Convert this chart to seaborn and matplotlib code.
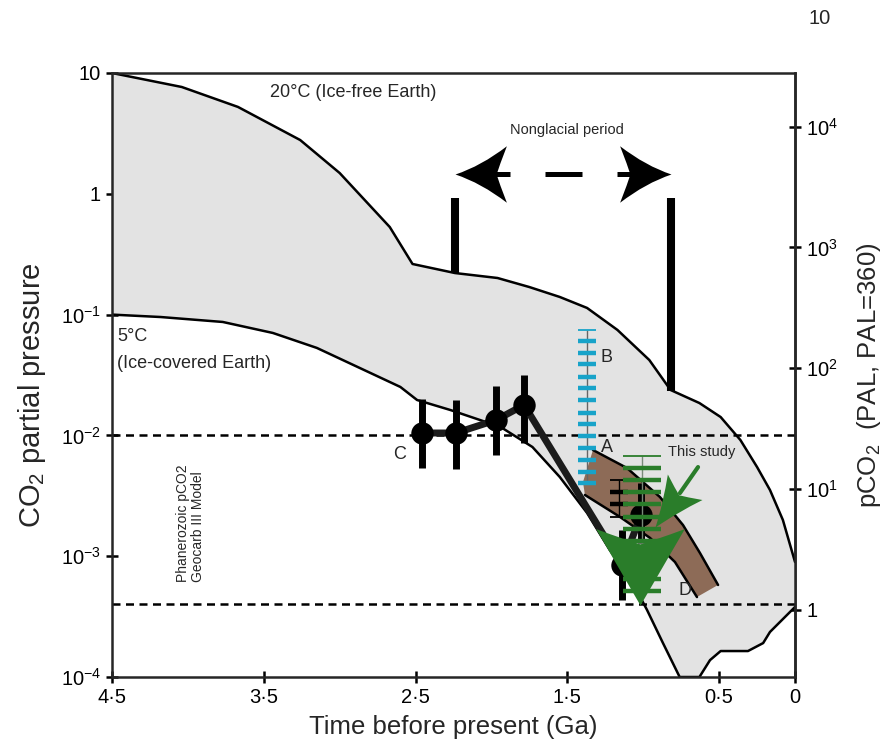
import numpy as np
import pandas as pd
import seaborn as sns
import matplotlib.pyplot as plt
from matplotlib.path import Path
from matplotlib.markers import MarkerStyle
from matplotlib.transforms import Affine2D
from matplotlib.ticker import NullLocator

# model envelope, age in Ga and log10 of pCO2 in atm
warm_ga = [4.5, 4.04, 3.67, 3.26, 3.00, 2.67, 2.52, 2.24, 1.96, 1.75, 1.55, 1.37,
           1.17, 0.96, 0.82, 0.63, 0.49, 0.36, 0.25, 0.165, 0.08, 0.0]
warm_log10 = [1.0, 0.884, 0.719, 0.445, 0.172, -0.275, -0.581, -0.656, -0.697, -0.772,
              -0.854, -0.945, -1.127, -1.376, -1.624, -1.732, -1.848, -2.038, -2.262,
              -2.452, -2.70, -3.048]
cold_ga = [0.0, 0.165, 0.21, 0.31, 0.49, 0.56, 0.63, 0.76, 0.87, 0.975, 1.09, 1.22,
           1.37, 1.55, 1.73, 1.94, 2.27, 2.49, 2.60, 3.15, 3.44, 3.77, 4.18, 4.5]
cold_log10 = [-3.42, -3.627, -3.719, -3.785, -3.785, -3.86, -4.0, -4.0, -3.719, -3.445,
              -3.172, -2.949, -2.642, -2.344, -2.096, -1.930, -1.790, -1.707, -1.599,
              -1.276, -1.152, -1.061, -1.020, -1.0]

# Phanerozoic Geocarb III range
geocarb_levels = [1e-2, 4e-4]

# paleosol estimates (C)
c_ga = [2.458, 2.234, 1.970, 1.785, 1.140, 1.015]
c_log10 = [-1.980, -1.980, -1.873, -1.748, -3.073, -2.659]
c_lo = [-2.270, -2.278, -2.162, -2.063, -3.363, -2.891]
c_hi = [-1.699, -1.707, -1.591, -1.500, -2.783, -2.394]

# estimate B
b_ga = 1.370
b_log10 = [-1.128, -1.219, -1.318, -1.409, -1.517, -1.608, -1.707, -1.815, -1.906,
           -2.005, -2.104, -2.204, -2.303, -2.394]
# black estimate
k_ga = 1.160
k_log10 = [-2.369, -2.469, -2.568, -2.675]
# this study
g_ga = 1.008
g_log10 = [-2.171, -2.270, -2.369, -2.469, -2.568, -2.675, -2.775, -2.874, -2.982,
           -3.081, -3.189, -3.288]

# band A-D
band_ga = [1.331, 1.107, 0.890, 0.738, 0.626, 0.507, 0.646, 0.791, 0.955, 1.153, 1.384, 1.397]
band_log10 = [-2.121, -2.270, -2.510, -2.742, -2.974, -3.238, -3.338, -3.048, -2.849,
              -2.675, -2.493, -2.386]

# nonglacial period
ng_start, ng_end = 2.24, 0.815
ng_bar_top = -0.035
ng_bar_bottom = [-0.656, -1.63]
ng_arrow_log10 = 0.164

y_ticks = [1e-4, 1e-3, 1e-2, 1e-1, 1, 10]
y_labels = ['10$^{-4}$', '10$^{-3}$', '10$^{-2}$', '10$^{-1}$', '1', '10']
x_ticks = [4.5, 3.5, 2.5, 1.5, 0.5, 0]
x_labels = ['4·5', '3·5', '2·5', '1·5', '0·5', '0']
pal_ticks = [1, 10, 100, 1000, 10000]
pal_labels = ['1', '10$^1$', '10$^2$', '10$^3$', '10$^4$']
PAL = 3.6e-4

GRAY = '#e3e3e3'
BROWN = '#8d6b57'
CYAN = '#18a3c9'
GREEN = '#2a7d2a'

sns.set_theme(style='ticks')
plt.rcParams['font.family'] = ['Liberation Sans', 'DejaVu Sans']
plt.rcParams['mathtext.default'] = 'regular'
plt.rcParams['axes.linewidth'] = 1.8


def head(half_width, angle, bow=0.4):
    # arrow head with swept back barbs, tip at origin
    hw = half_width
    verts = [(0, 0), (-0.5, bow * hw), (-1, hw), (-0.85, 0.3 * hw), (-0.8, 0),
             (-0.85, -0.3 * hw), (-1, -hw), (-0.5, -bow * hw), (0, 0), (0, 0)]
    codes = [Path.MOVETO] + [Path.CURVE3] * 8 + [Path.CLOSEPOLY]
    return MarkerStyle(Path(verts, codes), transform=Affine2D().rotate_deg(angle))


fig = plt.figure(figsize=(8.88, 7.54), dpi=100)
ax = fig.add_axes([0.1261, 0.1021, 0.7692, 0.8011])
ax.set_yscale('log')
ax.set_xlim(4.5, 0)
ax.set_ylim(1e-4, 10)

# envelope
env_x = np.concatenate([warm_ga, cold_ga])
env_y = 10 ** np.concatenate([warm_log10, cold_log10])
ax.fill(env_x, env_y, color=GRAY, lw=0, zorder=1)
ax.plot(warm_ga, 10 ** np.array(warm_log10), color='black', lw=1.8, zorder=2)
ax.plot(cold_ga, 10 ** np.array(cold_log10), color='black', lw=1.8, zorder=2)

for lev in geocarb_levels:
    ax.axhline(lev, color='black', lw=1.8, ls=(0, (3.2, 2.2)), zorder=3)

# band
ax.fill(band_ga, 10 ** np.array(band_log10), color=BROWN, lw=0, zorder=4)
ax.plot(band_ga[:6], 10 ** np.array(band_log10[:6]), color='black', lw=1.8, zorder=4)
ax.plot(band_ga[6:11], 10 ** np.array(band_log10[6:11]), color='black', lw=1.8, zorder=4)

# B
ax.vlines(b_ga, 10 ** b_log10[-1], 10 ** b_log10[0], color='#666666', lw=1, zorder=5)
ax.plot([b_ga], [10 ** b_log10[0]], ls='none', marker='_', ms=13, mew=1.3, color=CYAN, zorder=5)
ax.plot([b_ga] * (len(b_log10) - 1), 10 ** np.array(b_log10[1:]), ls='none', marker='_',
        ms=13, mew=3.2, color=CYAN, zorder=5)

# C series
c_df = pd.DataFrame({'age': c_ga, 'pco2': 10 ** np.array(c_log10)})
ax.vlines(c_ga, 10 ** np.array(c_lo), 10 ** np.array(c_hi), color='black', lw=5, zorder=6)
sns.lineplot(data=c_df, x='age', y='pco2', sort=False, color='#1c1c1c', lw=5, ax=ax, zorder=6)
sns.scatterplot(data=c_df, x='age', y='pco2', color='black', s=260, linewidth=0, ax=ax, zorder=7)

# black estimate
ax.vlines(k_ga, 10 ** k_log10[-1], 10 ** k_log10[0], color='black', lw=1, zorder=8)
ax.plot([k_ga, k_ga], [10 ** k_log10[0], 10 ** k_log10[-1]], ls='none', marker='_', ms=13,
        mew=1.3, color='black', zorder=8)
ax.plot([k_ga] * 2, 10 ** np.array(k_log10[1:3]), ls='none', marker='_', ms=13, mew=3.2,
        color='black', zorder=8)

# this study
ax.vlines(g_ga, 10 ** g_log10[-1], 10 ** g_log10[0], color='#7a8a7a', lw=1, zorder=8)
ax.plot([g_ga], [10 ** g_log10[0]], ls='none', marker='_', ms=27, mew=1.3, color=GREEN, zorder=8)
ax.plot([g_ga] * (len(g_log10) - 1), 10 ** np.array(g_log10[1:]), ls='none', marker='_',
        ms=27, mew=3.2, color=GREEN, zorder=8)

# green arrows
ax.plot([1.021], [10 ** -3.404], marker=head(0.58, -90, bow=0.5), ms=110, color=GREEN, mew=0, zorder=10)
ax.plot([0.758, 0.639], [10 ** -2.477, 10 ** -2.262], color=GREEN, lw=3, zorder=10)
ax.plot([0.922], [10 ** -2.758], marker=head(0.43, -126.4), ms=72, color=GREEN, mew=0, zorder=10)

# nonglacial period
ax.vlines([ng_start, ng_end], 10 ** np.array(ng_bar_bottom), 10 ** ng_bar_top, color='black',
          lw=5.8, zorder=5)
ax.plot([ng_start, ng_end], [10 ** ng_arrow_log10] * 2, color='black', lw=3.6,
        ls=(10.8, (7.4, 7.0)), zorder=5)
ax.plot([ng_start], [10 ** ng_arrow_log10], marker=head(0.55, 180, bow=0.3), ms=74, color='black', mew=0, zorder=6)
ax.plot([ng_end], [10 ** ng_arrow_log10], marker=head(0.55, 0, bow=0.3), ms=74, color='black', mew=0, zorder=6)

# text
ax.text(3.459, 10 ** 0.835, '20°C (Ice-free Earth)', fontsize=13, ha='left', va='center')
ax.text(4.467, 10 ** -1.185, '5°C', fontsize=13, ha='left', va='center')
ax.text(4.467, 10 ** -1.401, '(Ice-covered Earth)', fontsize=13, ha='left', va='center')
ax.text(1.502, 10 ** 0.528, 'Nonglacial period', fontsize=10.5, ha='center', va='center')
ax.text(1.239, 10 ** -1.351, 'B', fontsize=13, ha='center', va='center')
ax.text(1.239, 10 ** -2.104, 'A', fontsize=13, ha='center', va='center')
ax.text(2.603, 10 ** -2.162, 'C', fontsize=13, ha='center', va='center')
ax.text(0.725, 10 ** -3.280, 'D', fontsize=13, ha='center', va='center', zorder=11)
ax.text(0.613, 10 ** -2.137, 'This study', fontsize=10.5, ha='center', va='center')
ax.text(3.98, 10 ** -3.214, 'Phanerozoic pCO2\nGeocarb III Model', fontsize=10, rotation=90,
        ha='center', va='bottom', multialignment='left', linespacing=1.1)

# axes
ax.set_xticks(x_ticks, labels=x_labels)
ax.set_yticks(y_ticks, labels=y_labels)
ax.yaxis.set_minor_locator(NullLocator())
ax.tick_params(direction='inout', length=9, width=1.8, labelsize=14.5, colors='black')
ax.set_xlabel('Time before present (Ga)', fontsize=18.5, labelpad=6)
ax.set_ylabel('CO$_2$ partial pressure', fontsize=21)
ax.yaxis.set_label_coords(-0.094, 0.467)

sec = ax.secondary_yaxis('right', functions=(lambda v: v / PAL, lambda v: v * PAL))
sec.set_yticks(pal_ticks, labels=pal_labels)
sec.yaxis.set_minor_locator(NullLocator())
sec.tick_params(direction='inout', length=9, width=1.8, labelsize=14.5, colors='black')
sec.set_ylabel('pCO$_2$  (PAL, PAL=360)', fontsize=18.5, labelpad=12)
for sp in ax.spines.values():
    sp.set_linewidth(1.8)
    sp.set_zorder(12)
sec.spines['right'].set_linewidth(1.8)

fig.text(820 / 888, 1 - 18 / 754, '10', fontsize=14.5, ha='center', va='center')

fig.savefig('out.png', dpi=100)
